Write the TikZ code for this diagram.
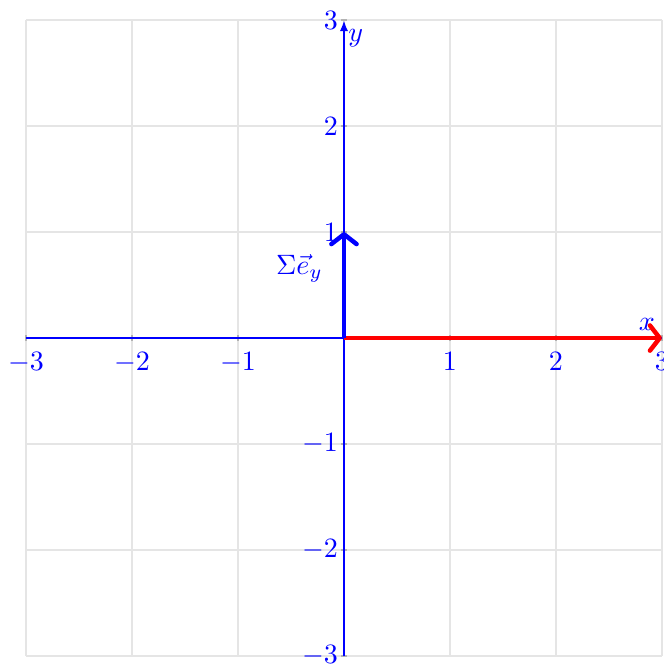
\documentclass[tikz,border=0pt]{standalone}
\usepackage{amsmath}
\usepackage{tikz}
\usetikzlibrary{arrows.meta, positioning}

\begin{document}
\begin{tikzpicture}[
  x=1.33cm, y=1.33cm,
  gridline/.style={gray!20, line width=0.4pt},
  axisline/.style={blue, line width=0.9pt},
  ticklabel/.style={blue, inner sep=2pt},
  vec/.style={line width=1.6pt, -{Straight Barb[round, length=3.5pt, width=9pt]}},
  tickmark/.style={gray!60, line width=0.4pt}
]
\useasboundingbox (-3.245,-3.075) rectangle (3.019,3.189);
\foreach \g in {-3,...,3} {
  \draw[gridline] (\g,-3) -- (\g,3);
  \draw[gridline] (-3,\g) -- (3,\g);
}

\coordinate (O) at (0,0);
\coordinate (xl) at (-3,0);
\coordinate (xr) at (3,0);
\coordinate (yb) at (0,-3);
\coordinate (yt) at (0,3);
\coordinate (ey) at (0,1);

% ticks and labels
\foreach \t in {-3,-2,-1,1,2,3} {
  \draw[tickmark] (\t,-0.03) -- (\t,0.03);
  \draw[tickmark] (-0.03,\t) -- (0.03,\t);
  \node[ticklabel, below=3pt] at (\t,0) {$\t$};
  \node[ticklabel, left=0pt] at (0,\t) {$\t$};
}

\draw[axisline] (xl) -- (xr);
\draw[axisline, -{Latex[length=4pt, width=3pt]}] (yb) -- (yt);
\node[blue, above left=-1pt and -1pt of xr] (xlab) {$x$};
\node[blue, below right=0pt and -2pt of yt] (ylab) {$y$};

\draw[vec, red] (O) -- (xr);
\draw[vec, blue] (O) -- (ey);
\node[blue] (eylab) at (-0.42,0.66) {$\Sigma\vec{e}_y$};
\end{tikzpicture}
\end{document}
